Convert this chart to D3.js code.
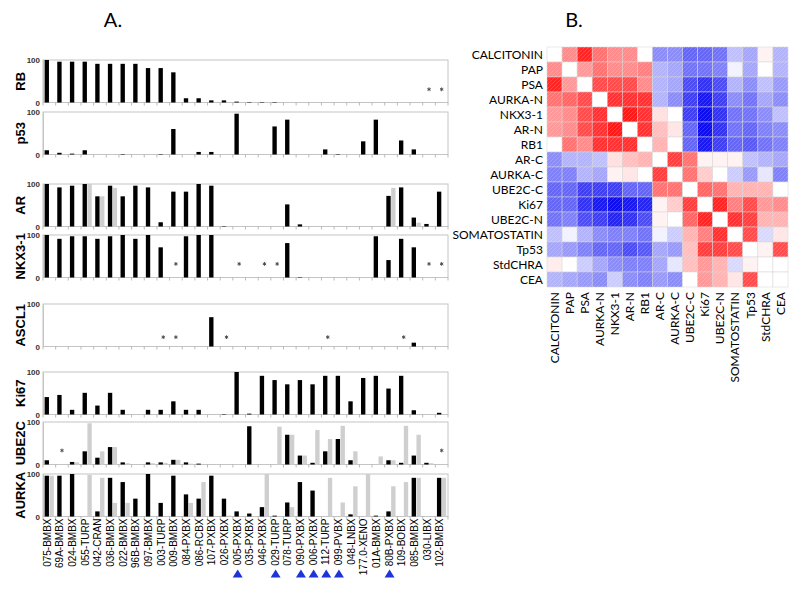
<!DOCTYPE html>
<html><head><meta charset="utf-8">
<script src="https://cdn.jsdelivr.net/npm/d3@7"></script>
<style>body{margin:0;background:#fff}</style>
</head><body>
<svg id="c" width="800" height="589"></svg>
<script>
// ---------------- DATA ----------------
const samples = ["075-BMBX","69A-BMBX","024-BMBX","055-TURP","042-CRAN","036-BMBX","022-BMBX","96B-BMBX",
  "097-BMBX","003-TURP","009-BMBX","084-PXBX","086-RCBX","107-PXBX","026-PXBX","005-PXBX","035-PXBX",
  "046-PXBX","029-TURP","078-TURP","090-PXBX","006-PXBX","112-TURP","099-PVBX","048-LNBX","177.0-XENO",
  "01A-BMBX","80B-PXBX","109-BOBX","085-BMBX","030-LIBX","102-BMBX"];
const flagged = ["005-PXBX","029-TURP","090-PXBX","006-PXBX","112-TURP","099-PVBX","80B-PXBX"];
const markers = ["RB","p53","AR","NKX3-1","ASCL1","Ki67","UBE2C","AURKA"];
const yTicks = [0,100];

const rbBlack    = [100,96,96,96,91,91,91,91,81,81,71,10,10,5,5,2,1,1,1,0,0,0,0,0,0,0,0,0,0,0,0,0];
const rbStars    = ["030-LIBX","102-BMBX"];
const p53Black   = [10,4,2,10,0,0,1,0,0,1,60,0,6,6,0,96,0,0,66,82,0,0,12,1,0,31,82,0,33,12,0,0];
const arBlack    = [100,92,96,100,71,96,71,96,92,10,82,82,100,96,1,0,0,0,0,52,5,0,0,0,0,0,0,72,92,21,6,82];
const arGray     = [0,0,0,100,71,91,0,0,0,0,0,0,0,0,0,0,0,0,0,0,0,0,0,0,0,0,0,91,0,9,0,0];
const nkxBlack   = [100,91,97,97,91,97,100,91,100,71,0,97,100,100,0,0,0,0,0,81,1,0,0,0,0,0,97,41,91,71,0,0];
const nkxStars   = ["009-BMBX","005-PXBX","046-PXBX","029-TURP","030-LIBX","102-BMBX"];
const ascl1Black = [0,0,0,0,0,0,0,0,0,0,0,0,0,69,0,0,0,0,0,0,0,0,0,0,0,0,0,0,0,9,0,0];
const ascl1Stars = ["003-TURP","009-BMBX","026-PXBX","112-TURP","109-BOBX"];
const ki67Black  = [41,46,11,51,21,51,11,0,11,11,31,11,11,0,1,100,2,91,81,71,81,71,91,91,31,86,91,61,91,10,0,4];
const ube2cBlack = [10,0,6,31,16,41,5,0,5,5,11,5,2,0,0,0,90,0,0,70,21,4,31,60,10,0,0,10,4,21,4,0];
const ube2cGray  = [0,0,5,97,31,41,3,0,3,4,11,2,0,0,0,0,0,0,89,70,21,81,60,91,31,0,19,10,91,70,3,0];
const ube2cStars = ["69A-BMBX","102-BMBX"];
const aurkaBlack = [96,96,100,0,12,91,81,42,100,32,96,52,42,96,42,12,7,22,2,33,81,61,0,0,5,0,2,12,0,91,0,91];
const aurkaGray  = [96,0,0,98,91,32,32,0,0,0,0,32,81,0,2,0,0,100,0,22,0,0,91,33,71,100,0,71,81,91,0,91];

const corrLabels = ["CALCITONIN","PAP","PSA","AURKA-N","NKX3-1","AR-N","RB1","AR-C","AURKA-C","UBE2C-C",
  "Ki67","UBE2C-N","SOMATOSTATIN","Tp53","StdCHRA","CEA"];
const corrMatrix = [
  [null,0.45,0.85,0.55,0.45,0.45,0.0,-0.45,-0.45,-0.6,-0.6,-0.55,-0.25,-0.35,0.05,-0.3],
  [0.45,null,0.4,0.55,0.45,0.45,0.5,-0.3,-0.35,-0.55,-0.55,-0.5,-0.05,-0.35,0.0,-0.3],
  [0.85,0.4,null,0.7,0.7,0.7,0.45,-0.3,-0.35,-0.7,-0.8,-0.7,-0.3,-0.45,-0.25,-0.4],
  [0.55,0.6,0.7,null,0.8,0.8,0.8,-0.3,-0.45,-0.75,-0.9,-0.75,-0.45,-0.55,-0.35,-0.45],
  [0.4,0.45,0.7,0.8,null,0.9,0.8,0.12,0.0,-0.75,-0.95,-0.8,-0.55,-0.55,-0.45,-0.25],
  [0.4,0.45,0.7,0.8,0.9,null,0.8,0.25,0.1,-0.6,-0.95,-0.8,-0.55,-0.6,-0.5,-0.45],
  [0.0,0.55,0.45,0.8,0.8,0.8,null,0.3,0.0,-0.6,-0.9,-0.75,-0.6,-0.65,-0.55,-0.5],
  [-0.45,-0.3,-0.3,-0.25,0.12,0.25,0.3,null,0.75,0.55,0.05,0.05,0.05,-0.25,-0.3,-0.35],
  [-0.5,-0.5,-0.3,-0.35,0.05,0.1,0.0,0.75,null,0.55,0.2,0.0,-0.2,-0.4,-0.1,-0.5],
  [-0.6,-0.6,-0.75,-0.75,-0.75,-0.6,-0.6,0.55,0.55,null,0.6,0.55,0.3,0.3,0.3,0.0],
  [-0.6,-0.6,-0.8,-0.9,-0.95,-0.9,-0.85,0.05,0.2,0.75,null,0.85,0.5,0.7,0.4,0.45],
  [-0.55,-0.5,-0.7,-0.75,-0.85,-0.8,-0.7,0.05,0.0,0.6,0.85,null,0.8,0.75,0.3,0.3],
  [-0.25,-0.05,-0.3,-0.45,-0.5,-0.5,-0.55,-0.05,-0.2,0.3,0.5,0.8,null,0.7,-0.15,0.1],
  [-0.35,-0.4,-0.5,-0.6,-0.6,-0.7,-0.65,-0.35,-0.4,0.25,0.75,0.75,0.7,null,0.05,0.7],
  [0.07,0.0,-0.2,-0.35,-0.45,-0.5,-0.5,-0.35,-0.1,0.25,0.4,0.3,-0.15,0.05,null,0.0],
  [-0.3,-0.35,-0.4,-0.45,-0.2,-0.45,-0.5,-0.4,-0.45,0.0,0.4,0.3,0.1,0.7,0.0,null]
];

// ---------------- PANEL A ----------------
const svg = d3.select("#c");
const panels = [
  {black: rbBlack, gray: null, stars: rbStars, starLevel: 31},
  {black: p53Black, gray: null, stars: [], starLevel: 31},
  {black: arBlack, gray: arGray, stars: [], starLevel: 31},
  {black: nkxBlack, gray: null, stars: nkxStars, starLevel: 32},
  {black: ascl1Black, gray: null, stars: ascl1Stars, starLevel: 22},
  {black: ki67Black, gray: null, stars: [], starLevel: 31},
  {black: ube2cBlack, gray: ube2cGray, stars: ube2cStars, starLevel: 33},
  {black: aurkaBlack, gray: aurkaGray, stars: [], starLevel: 31}
];
const tops = [60,112,184,235,304,372,422,474];
const ph = 42.5;
const x = d3.scaleBand().domain(samples).range([43,448]);
const sub = d3.scaleBand().domain(["black","gray"]).range([1.6,10.8]).paddingInner(0.1);
const star = d3.symbol().type(d3.symbolAsterisk).size(10);

svg.append("text").attr("x",113).attr("y",27).attr("text-anchor","middle")
  .style("font-family","Lato, 'Open Sans', sans-serif").style("font-size","20px").text("A.");
svg.append("text").attr("x",574).attr("y",27).attr("text-anchor","middle")
  .style("font-family","Lato, 'Open Sans', sans-serif").style("font-size","20px").text("B.");

panels.forEach((p,k)=>{
  const top = tops[k];
  const y = d3.scaleLinear().domain([0,100]).range([top+ph, top]);
  const g = svg.append("g");
  g.append("rect").attr("x",43).attr("y",top).attr("width",405).attr("height",ph)
    .attr("fill","none").attr("stroke","#c4c4c4").attr("stroke-width",1);
  // x ticks at band boundaries
  g.selectAll("line.tk").data(samples.concat([null])).join("line")
    .attr("x1",d=> d===null ? 448 : x(d)).attr("x2",d=> d===null ? 448 : x(d))
    .attr("y1",top+ph).attr("y2",top+ph+3).attr("stroke","#aaa").attr("stroke-width",0.8);
  // y axis
  const ax = g.append("g").attr("transform","translate(43,0)")
    .call(d3.axisLeft(y).tickValues(yTicks).tickSize(0).tickPadding(3));
  ax.select(".domain").attr("stroke","#c4c4c4");
  ax.selectAll("text").style("font-family","Arial, 'Liberation Sans', sans-serif")
    .style("font-size","8px").style("font-weight","bold").attr("fill","#333");
  // gray bars
  if (p.gray) {
    g.selectAll("rect.gb").data(samples).join("rect")
      .attr("x",d=>x(d)+sub("gray")).attr("width",sub.bandwidth())
      .attr("y",(d,i)=>y(p.gray[i])).attr("height",(d,i)=>y(0)-y(p.gray[i]))
      .attr("fill","#cfcfcf");
  }
  g.selectAll("rect.bb").data(samples).join("rect")
    .attr("x",d=>x(d)+sub("black")).attr("width",sub.bandwidth())
    .attr("y",(d,i)=>y(p.black[i])).attr("height",(d,i)=>y(0)-y(p.black[i]))
    .attr("fill","#000");
  // stars
  g.selectAll("path.st").data(p.stars).join("path")
    .attr("transform",d=>`translate(${x(d)+x.bandwidth()/2},${y(p.starLevel)})`)
    .attr("d",star).attr("fill","none").attr("stroke","#444").attr("stroke-width",0.9);
  // y title
  g.append("text").attr("transform",`translate(24.5,${top+ph/2}) rotate(-90)`)
    .attr("text-anchor","middle").style("font-family","Arial, 'Liberation Sans', sans-serif")
    .style("font-size","13px").style("font-weight","bold").text(markers[k]);
});

// x labels
const lastBottom = tops[tops.length-1]+ph;
svg.append("g").selectAll("text").data(samples).join("text")
  .attr("transform",d=>`translate(${x(d)+x.bandwidth()/2+1.5},${lastBottom+2}) rotate(-90)`)
  .attr("text-anchor","end").style("font-family","Arial, 'Liberation Sans', sans-serif")
  .style("font-size","10px").attr("fill","#000").text(d=>d);

// triangles
svg.append("g").selectAll("path").data(flagged).join("path")
  .attr("d",d=>{const cx=x(d)+x.bandwidth()/2-1.5; return `M${cx-5},577.5L${cx+5},577.5L${cx},569.5Z`;})
  .attr("fill","#1c34d8");

// ---------------- PANEL B ----------------
const hx = d3.scaleBand().domain(corrLabels).range([547,788]);
const hy = d3.scaleBand().domain(corrLabels).range([47,287]);
const color = d3.scaleLinear().domain([-1,0,1]).range(["#0000ee","#ffffff","#ff0000"]);

const defs = svg.append("defs");
const pat = defs.append("pattern").attr("id","hatch").attr("patternUnits","userSpaceOnUse")
  .attr("width",4).attr("height",4);
pat.append("path").attr("d","M-1,1 l2,-2 M0,4 l4,-4 M3,5 l2,-2")
  .attr("stroke","#fff").attr("stroke-opacity",0.22).attr("stroke-width",0.8);

const cells = [];
corrMatrix.forEach((row,i)=>row.forEach((v,j)=>cells.push({r:corrLabels[i],c:corrLabels[j],v})));
const hg = svg.append("g");
hg.selectAll("rect.cell").data(cells).join("rect")
  .attr("x",d=>hx(d.c)).attr("y",d=>hy(d.r)).attr("width",hx.bandwidth()).attr("height",hy.bandwidth())
  .attr("fill",d=>d.v===null ? "#ffffff" : color(d.v))
  .attr("stroke","#d4d4d4").attr("stroke-width",0.5);
hg.selectAll("rect.hatch").data(cells.filter(d=>d.v!==null)).join("rect")
  .attr("x",d=>hx(d.c)).attr("y",d=>hy(d.r)).attr("width",hx.bandwidth()).attr("height",hy.bandwidth())
  .attr("fill","url(#hatch)");

hg.selectAll("text.rl").data(corrLabels).join("text")
  .attr("x",543).attr("y",d=>hy(d)+hy.bandwidth()/2).attr("dy","0.35em")
  .attr("text-anchor","end").style("font-family","Lato, 'Open Sans', sans-serif")
  .style("font-size","12px").text(d=>d);
hg.selectAll("text.cl").data(corrLabels).join("text")
  .attr("transform",d=>`translate(${hx(d)+hx.bandwidth()/2},292) rotate(-90)`)
  .attr("dy","0.35em").attr("text-anchor","end").style("font-family","Lato, 'Open Sans', sans-serif")
  .style("font-size","12px").text(d=>d);
</script>
</body></html>
